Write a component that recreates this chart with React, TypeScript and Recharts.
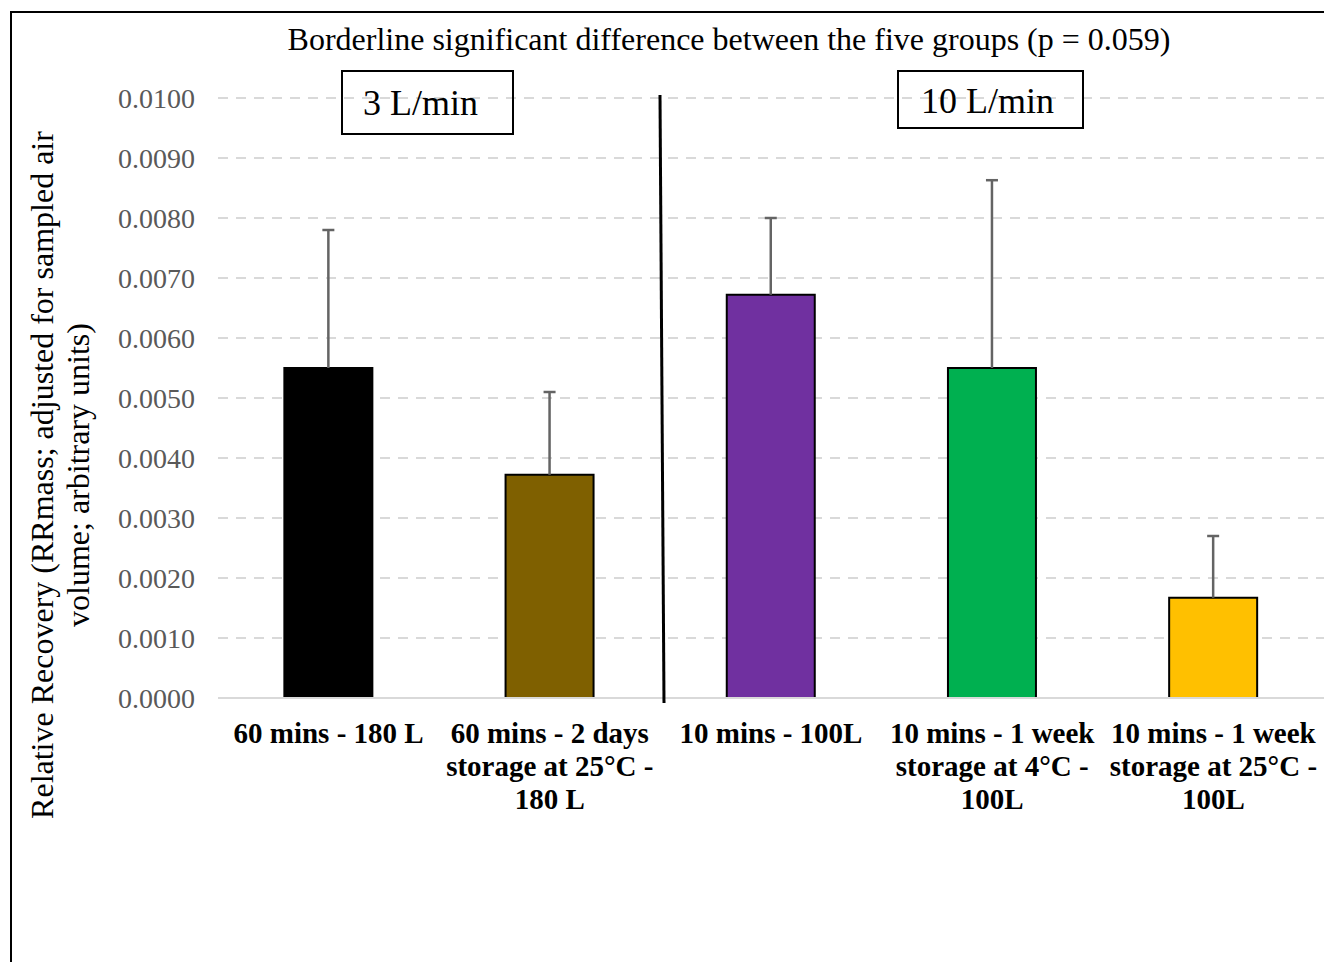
import { BarChart, Bar, XAxis, YAxis, CartesianGrid, Cell } from 'recharts';

const categories = [
  '60 mins - 180 L',
  '60 mins - 2 days\nstorage at 25°C -\n180 L',
  '10 mins - 100L',
  '10 mins - 1 week\nstorage at 4°C -\n100L',
  '10 mins - 1 week\nstorage at 25°C -\n100L',
];
const recovery = [0.0055, 0.00372, 0.00672, 0.0055, 0.00167];
const errorUp = [0.0023, 0.00138, 0.00128, 0.00313, 0.00103];
const barColors = ['#000000', '#7F6000', '#7030A0', '#00B050', '#FFC000'];
const yTicks = [0, 0.001, 0.002, 0.003, 0.004, 0.005, 0.006, 0.007, 0.008, 0.009, 0.01];

const data = categories.map((name, i) => ({
  name,
  value: recovery[i],
  err: errorUp[i],
}));

const FONT = '"Liberation Serif", "Times New Roman", serif';

function CategoryTick({ x, y, payload }: any) {
  const lines = String(payload.value).split('\n');
  return (
    <text x={x} y={y} textAnchor="middle" fontFamily={FONT} fontSize={29} fontWeight="bold" fill="#000">
      {lines.map((l, i) => (
        <tspan key={i} x={x} dy={i === 0 ? 45 : 33}>
          {l}
        </tspan>
      ))}
    </text>
  );
}

// upper-only error bar drawn on the stacked "err" segment
function UpperError({ x, y, width, height }: any) {
  const cx = x + width / 2;
  return (
    <g stroke="#646464" strokeWidth={2.5}>
      <line x1={cx} y1={y} x2={cx} y2={y + height} />
      <line x1={cx - 6} y1={y} x2={cx + 6} y2={y} />
    </g>
  );
}

export default function App() {
  return (
    <div
      style={{
        position: 'fixed',
        left: 8,
        top: 8,
        width: 1316,
        height: 954,
        overflow: 'hidden',
        background: '#fff',
      }}
    >
      <div
        style={{
          position: 'absolute',
          left: 2,
          top: 3,
          width: 1400,
          height: 1000,
          border: '2px solid #000',
        }}
      />
      <div style={{ position: 'absolute', left: 0, top: 0 }}>
        <BarChart
          width={1316}
          height={954}
          data={data}
          margin={{ top: 90, right: 0, left: 0, bottom: 144 }}
          barCategoryGap="30%"
        >
          <CartesianGrid vertical={false} stroke="#d9d9d9" strokeWidth={2} strokeDasharray="10 8" />
          <XAxis
            dataKey="name"
            height={120}
            interval={0}
            tickLine={false}
            tickSize={0}
            tickMargin={0}
            axisLine={{ stroke: '#d9d9d9', strokeWidth: 2 }}
            tick={<CategoryTick />}
          />
          <YAxis
            width={210}
            domain={[0, 0.01]}
            ticks={yTicks}
            interval={0}
            allowDataOverflow
            axisLine={false}
            tickLine={false}
            tickSize={0}
            tickMargin={23}
            tickFormatter={(v: number) => v.toFixed(4)}
            tick={{ fontFamily: FONT, fontSize: 28, fill: '#595959' }}
          />
          <Bar dataKey="value" stackId="a" stroke="#000" strokeWidth={2} isAnimationActive={false}>
            {data.map((d, i) => (
              <Cell key={d.name} fill={barColors[i]} />
            ))}
          </Bar>
          <Bar dataKey="err" stackId="a" shape={<UpperError />} isAnimationActive={false} />
        </BarChart>
      </div>
      <svg
        width={1316}
        height={954}
        style={{ position: 'absolute', left: 0, top: 0, pointerEvents: 'none' }}
      >
        <text x={721} y={42} textAnchor="middle" fontFamily={FONT} fontSize={32} fill="#000">
          Borderline significant difference between the five groups (p = 0.059)
        </text>
        <line x1={652} y1={87} x2={656} y2={695} stroke="#000" strokeWidth={3} />
        <rect x={334} y={63} width={171} height={63} fill="none" stroke="#000" strokeWidth={2} />
        <text x={412.5} y={107} textAnchor="middle" fontFamily={FONT} fontSize={36} fill="#000">
          3 L/min
        </text>
        <rect x={890} y={63} width={185} height={57} fill="none" stroke="#000" strokeWidth={2} />
        <text x={979.5} y={105} textAnchor="middle" fontFamily={FONT} fontSize={36} fill="#000">
          10 L/min
        </text>
        <g transform="translate(0 467) rotate(-90)">
          <text x={0} y={45} textAnchor="middle" fontFamily={FONT} fontSize={32} fill="#000">
            Relative Recovery (RRmass; adjusted for sampled air
          </text>
          <text x={0} y={81} textAnchor="middle" fontFamily={FONT} fontSize={32} fill="#000">
            volume; arbitrary units)
          </text>
        </g>
      </svg>
    </div>
  );
}
